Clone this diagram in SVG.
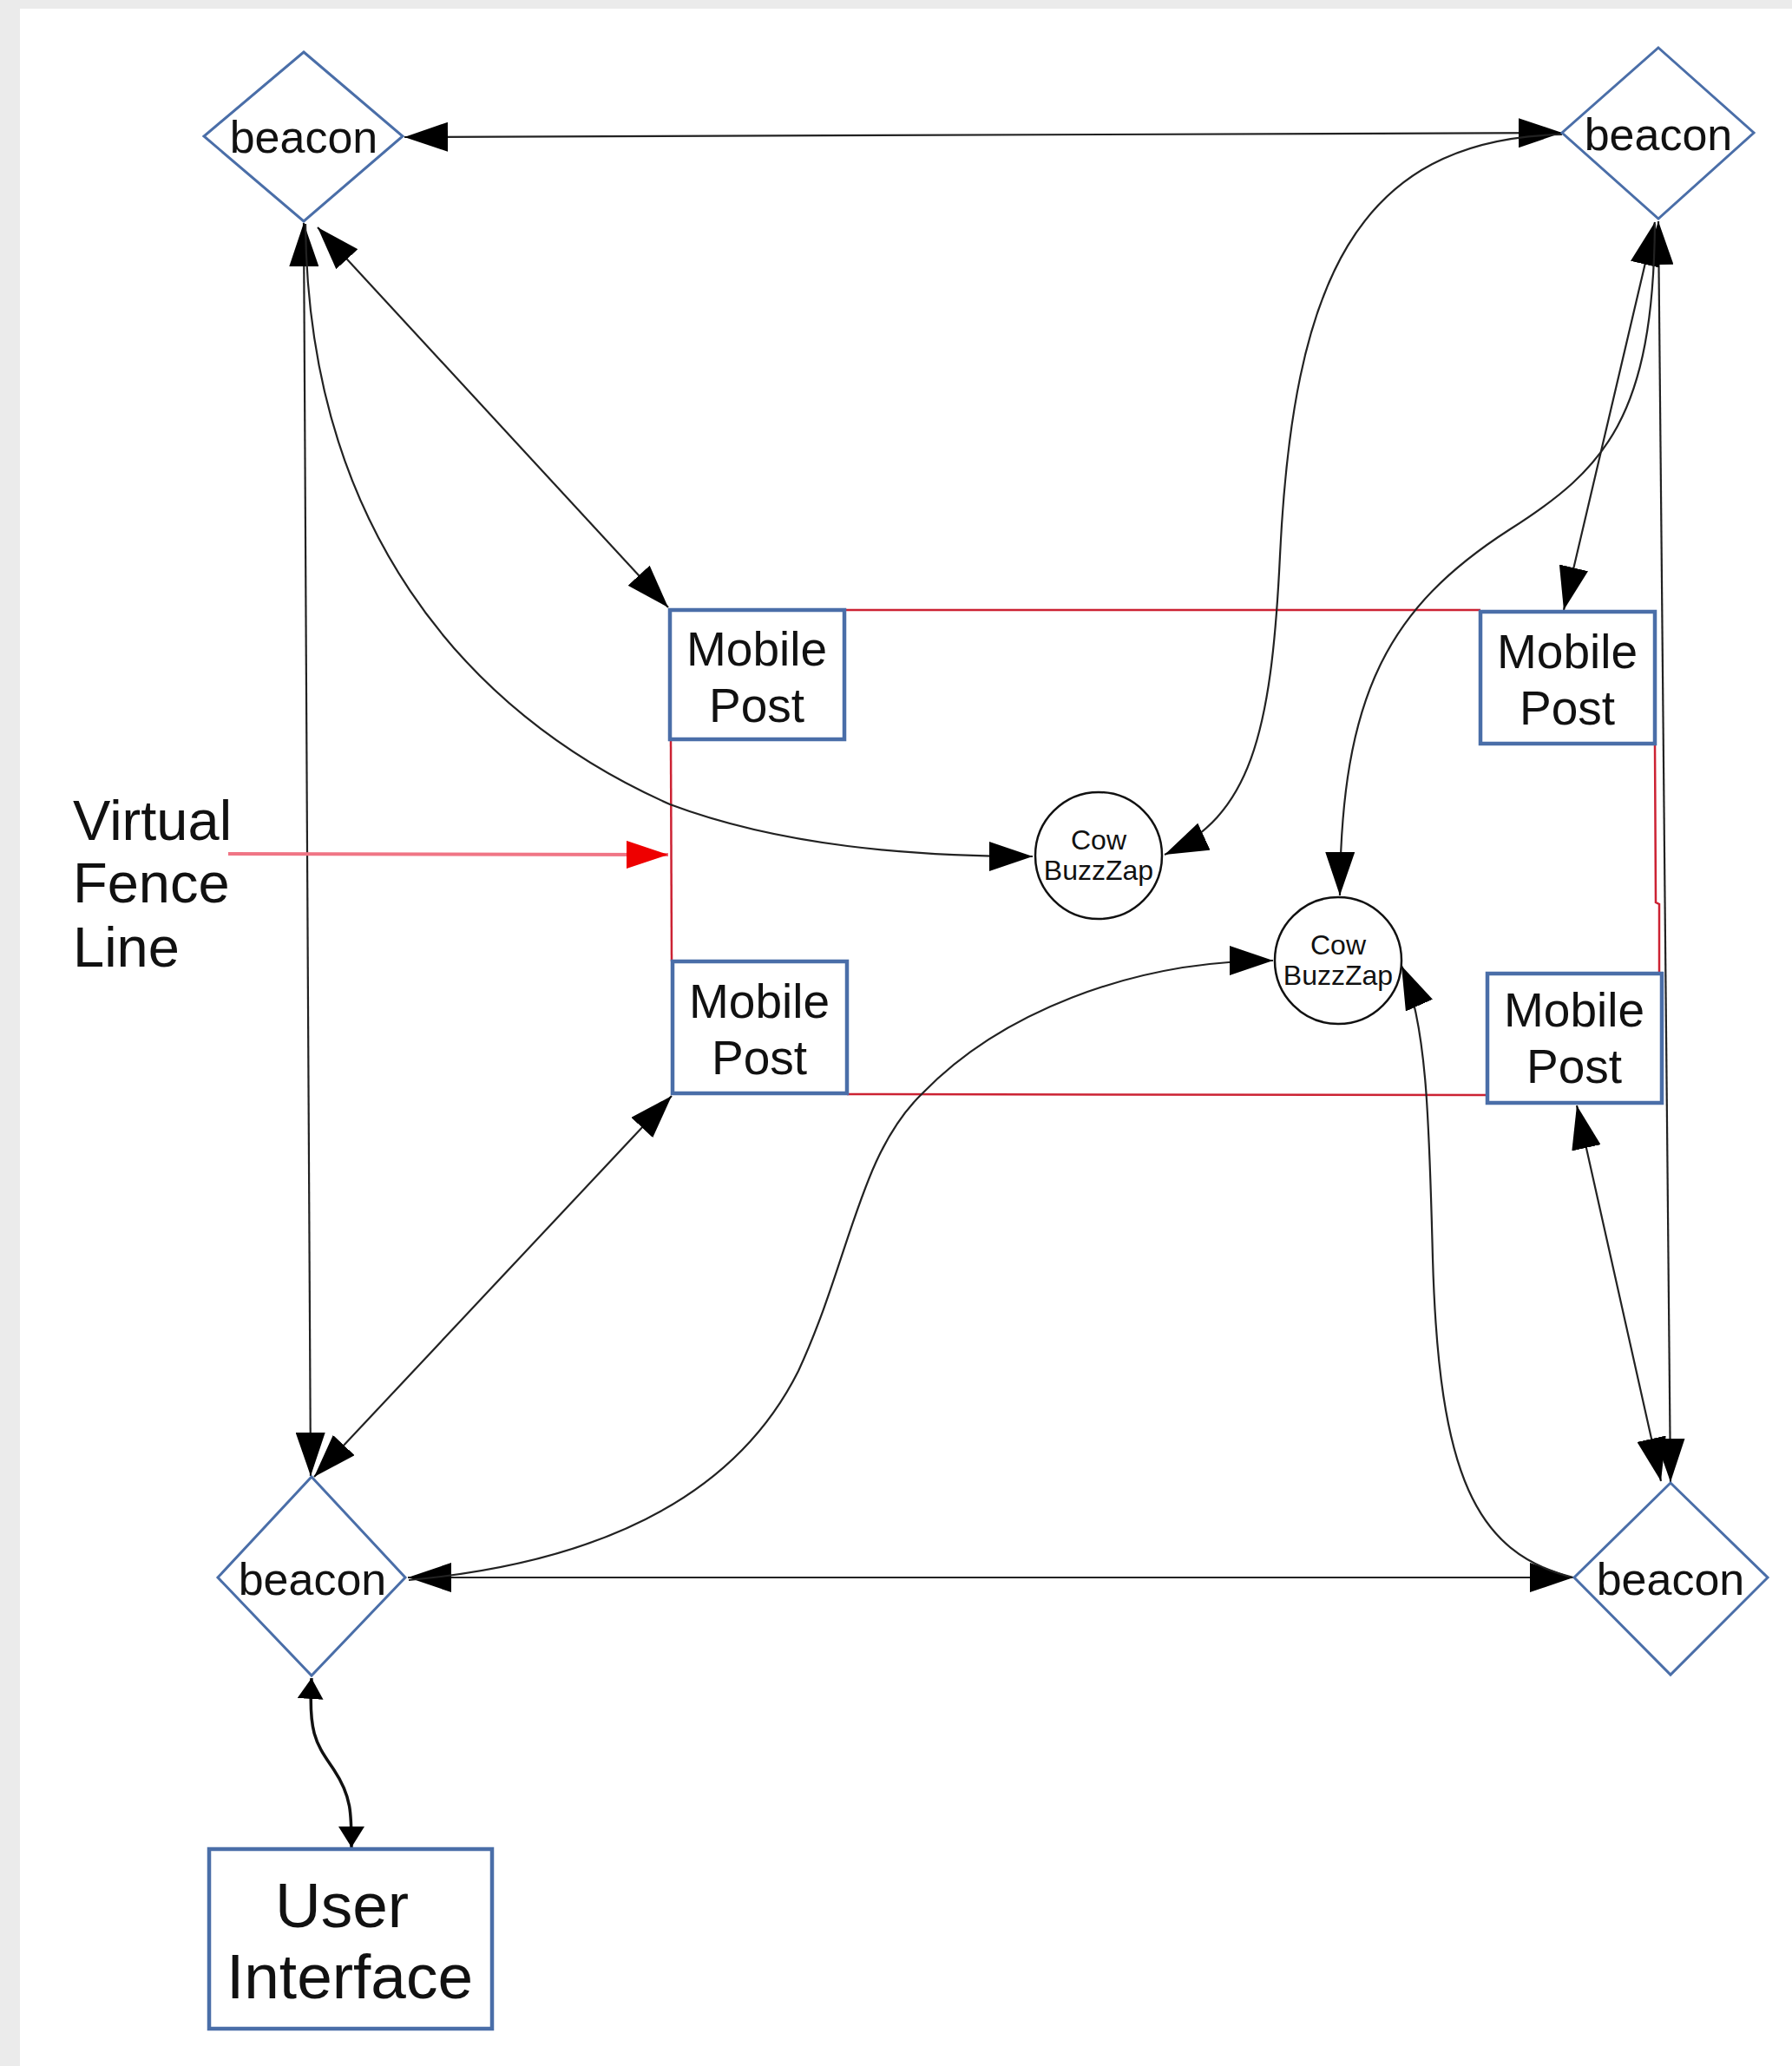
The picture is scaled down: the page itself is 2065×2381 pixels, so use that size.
<svg xmlns="http://www.w3.org/2000/svg" width="2065" height="2381" viewBox="0 0 2065 2381">
<defs>
<style>
.diamond{fill:#fff;stroke:#4a6ea8;stroke-width:3}
.box{fill:#fff;stroke:#4a6ea8;stroke-width:4.5}
.cow{fill:#fff;stroke:#111;stroke-width:2.5}
.t{font-family:"Liberation Sans",Arial,sans-serif;fill:#111;text-anchor:middle}
.lbl{font-family:"Liberation Sans",Arial,sans-serif;fill:#111}
.conn{fill:none;stroke:#222;stroke-width:2.2}
.fence{fill:none;stroke:#cc2233;stroke-width:2.5}
</style>
<marker id="ah" viewBox="0 0 50 34" markerWidth="50" markerHeight="34" refX="50" refY="17" orient="auto-start-reverse" markerUnits="userSpaceOnUse"><path d="M0,0 L50,17 L0,34 z" fill="#000"/></marker>
<marker id="ahs" viewBox="0 0 24 30" markerWidth="24" markerHeight="30" refX="24" refY="15" orient="auto-start-reverse" markerUnits="userSpaceOnUse"><path d="M0,0 L24,15 L0,30 z" fill="#000"/></marker>
<marker id="ahr" viewBox="0 0 48 32" markerWidth="48" markerHeight="32" refX="48" refY="16" orient="auto" markerUnits="userSpaceOnUse"><path d="M0,0 L48,16 L0,32 z" fill="#ee0000"/></marker>
</defs>
<rect x="0" y="0" width="2065" height="2381" fill="#ebebeb"/>
<rect x="23" y="10" width="2042" height="2371" fill="#ffffff"/>

<g id="fence-line">
<line class="fence" x1="973" y1="703" x2="1706" y2="703"/>
<line class="fence" x1="773" y1="852" x2="774" y2="1108"/>
<line class="fence" x1="976" y1="1261" x2="1714" y2="1262"/>
<polyline class="fence" points="1907,857 1908,1040 1912,1042 1912,1122"/>
</g>

<g id="connectors">
<line class="conn" x1="466" y1="158" x2="1800" y2="153" marker-start="url(#ah)" marker-end="url(#ah)"/>
<line class="conn" x1="470" y1="1818" x2="1813" y2="1818" marker-start="url(#ah)" marker-end="url(#ah)"/>
<line class="conn" x1="350" y1="257" x2="358" y2="1701" marker-start="url(#ah)" marker-end="url(#ah)"/>
<line class="conn" x1="1911" y1="255" x2="1925" y2="1708" marker-start="url(#ah)" marker-end="url(#ah)"/>
<line class="conn" x1="366" y1="262" x2="770" y2="700" marker-start="url(#ah)" marker-end="url(#ah)"/>
<line class="conn" x1="774" y1="1263" x2="362" y2="1702" marker-start="url(#ah)" marker-end="url(#ah)"/>
<line class="conn" x1="1907" y1="256" x2="1802" y2="703" marker-start="url(#ah)" marker-end="url(#ah)"/>
<line class="conn" x1="1817" y1="1274" x2="1914" y2="1707" marker-start="url(#ah)" marker-end="url(#ah)"/>
<path class="conn" d="M352,258 C355,600 530,820 772,927 C900,975 1050,987 1190,987" marker-end="url(#ah)"/>
<path class="conn" d="M1800,155 C1560,160 1490,330 1475,640 C1465,850 1440,940 1342,985" marker-end="url(#ah)"/>
<path class="conn" d="M1907,258 C1905,480 1850,540 1740,610 C1600,700 1545,800 1544,1032" marker-end="url(#ah)"/>
<path class="conn" d="M471,1821 C700,1800 850,1720 920,1580 C980,1450 990,1330 1063,1260 C1150,1170 1300,1107 1467,1107" marker-end="url(#ah)"/>
<path class="conn" d="M1813,1818 C1700,1790 1658,1700 1651,1450 C1647,1300 1645,1180 1615,1113" marker-end="url(#ah)"/>
<path class="conn" style="stroke-width:3.5;stroke:#111" d="M359,1934 C355,2000 365,2010 385,2040 C405,2070 405,2090 405,2129" marker-start="url(#ahs)" marker-end="url(#ahs)"/>
<line x1="263" y1="984" x2="770" y2="985" stroke="#f07585" stroke-width="4" marker-end="url(#ahr)"/>
</g>

<g id="beacon-tl">
<polygon class="diamond" points="350,60 464,157 350,255 235,157"/>
<text class="t" x="350" y="176" font-size="52">beacon</text>
</g>
<g id="beacon-tr">
<polygon class="diamond" points="1911,55 2021,153 1911,252 1800,153"/>
<text class="t" x="1911" y="173" font-size="52">beacon</text>
</g>
<g id="beacon-bl">
<polygon class="diamond" points="359,1702 467,1818 359,1931 251,1818"/>
<text class="t" x="360" y="1838" font-size="52">beacon</text>
</g>
<g id="beacon-br">
<polygon class="diamond" points="1925,1709 2037,1818 1925,1930 1814,1818"/>
<text class="t" x="1925" y="1838" font-size="52">beacon</text>
</g>

<g id="post-tl">
<rect class="box" x="772" y="703" width="201" height="149"/>
<text class="t" x="872" y="767" font-size="55">Mobile</text>
<text class="t" x="872" y="832" font-size="55">Post</text>
</g>
<g id="post-tr">
<rect class="box" x="1706" y="705" width="201" height="152"/>
<text class="t" x="1806" y="770" font-size="55">Mobile</text>
<text class="t" x="1806" y="835" font-size="55">Post</text>
</g>
<g id="post-bl">
<rect class="box" x="775" y="1108" width="201" height="152"/>
<text class="t" x="875" y="1173" font-size="55">Mobile</text>
<text class="t" x="875" y="1238" font-size="55">Post</text>
</g>
<g id="post-br">
<rect class="box" x="1714" y="1122" width="201" height="149"/>
<text class="t" x="1814" y="1183" font-size="55">Mobile</text>
<text class="t" x="1814" y="1248" font-size="55">Post</text>
</g>

<g id="cow-1">
<circle class="cow" cx="1266" cy="986" r="73"/>
<text class="t" x="1266" y="979" font-size="32">Cow</text>
<text class="t" x="1266" y="1014" font-size="32">BuzzZap</text>
</g>
<g id="cow-2">
<circle class="cow" cx="1542" cy="1107" r="73"/>
<text class="t" x="1542" y="1100" font-size="32">Cow</text>
<text class="t" x="1542" y="1135" font-size="32">BuzzZap</text>
</g>

<g id="user-interface">
<rect class="box" x="241" y="2131" width="326" height="207"/>
<text class="t" x="394" y="2221" font-size="73">User</text>
<text class="t" x="403" y="2303" font-size="73">Interface</text>
</g>

<g id="fence-label">
<text class="lbl" x="84" y="968" font-size="65">Virtual</text>
<text class="lbl" x="84" y="1040" font-size="65">Fence</text>
<text class="lbl" x="84" y="1114" font-size="65">Line</text>
</g>
</svg>
